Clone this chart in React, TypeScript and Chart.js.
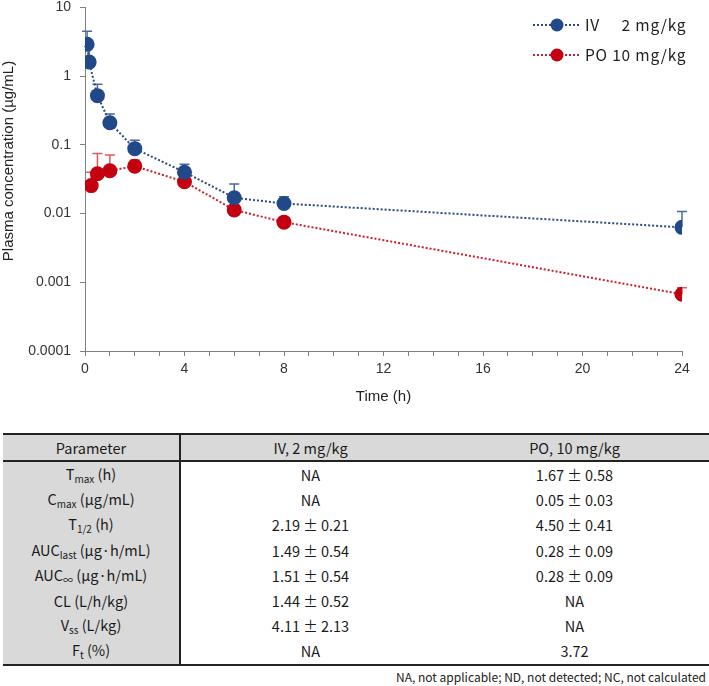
import React, { useEffect, useRef } from "react";
import { Chart, registerables } from "chart.js";
Chart.register(...registerables);

// ---- chart data ----
const ivTimes = [0.083, 0.167, 0.5, 1, 2, 4, 6, 8, 24];
const ivMeans = [2.9, 1.6, 0.52, 0.21, 0.088, 0.04, 0.017, 0.014, 0.0063];
const ivUpper = [4.5, 2.7, 0.76, 0.28, 0.117, 0.052, 0.027, 0.0176, 0.0107];
const poTimes = [0.25, 0.5, 1, 2, 4, 6, 8, 24];
const poMeans = [0.0255, 0.038, 0.042, 0.049, 0.029, 0.0113, 0.0075, 0.00067];
const poUpper: (number | null)[] = [0.04, 0.075, 0.071, 0.06, null, null, null, 0.00083];
const yTicks = [0.0001, 0.001, 0.01, 0.1, 1, 10];
const xTickLabels = ["0", "4", "8", "12", "16", "20", "24"];
const legendRoutes = ["IV", "PO"];
const legendDoses = ["2 mg/kg", "10 mg/kg"];
const xTitle = "Time (h)";
const yTitle = "Plasma concentration (µg/mL)";

// ---- table data ----
const headers = ["Parameter", "IV, 2 mg/kg", "PO, 10 mg/kg"];
const paramMain = ["T", "C", "T", "AUC", "AUC", "CL", "V", "F"];
const paramSub = ["max", "max", "1/2", "last", "∞", "", "ss", "t"];
const paramUnit = ["(h)", "(µg/mL)", "(h)", "(µg·h/mL)", "(µg·h/mL)", "(L/h/kg)", "(L/kg)", "(%)"];
const ivValues = ["NA", "NA", "2.19 ± 0.21", "1.49 ± 0.54", "1.51 ± 0.54", "1.44 ± 0.52", "4.11 ± 2.13", "NA"];
const poValues = ["1.67 ± 0.58", "0.05 ± 0.03", "4.50 ± 0.41", "0.28 ± 0.09", "0.28 ± 0.09", "NA", "NA", "3.72"];
const footnote = "NA, not applicable; ND, not detected; NC, not calculated";

const BLUE = "#21498A";
const BLUE_LINE = "#2B4A80";
const BLUE_ERR = "#4A6A9E";
const RED = "#C40010";
const RED_LINE = "#C8202A";
const RED_ERR = "#E05A5A";
const AXIS = "#808080";
const SANS = '"Liberation Sans", Arial, sans-serif';
const KR = '"Noto Sans CJK KR", "Noto Sans", sans-serif';

const OFFSET = 10; // canvas top offset (page y = canvas y - OFFSET)

export default function App() {
  const ref = useRef<HTMLCanvasElement | null>(null);

  useEffect(() => {
    if (!ref.current) return;
    const errPlugin = {
      id: "errBars",
      beforeDatasetsDraw(chart: any) {
        const ctx = chart.ctx;
        const xs = chart.scales.x;
        const ys = chart.scales.y;
        const draw = (times: number[], means: number[], ups: (number | null)[], color: string) => {
          ctx.save();
          ctx.strokeStyle = color;
          ctx.lineWidth = 1.5;
          times.forEach((t, i) => {
            const u = ups[i];
            if (u == null) return;
            const px = xs.getPixelForValue(t);
            const py0 = ys.getPixelForValue(means[i]);
            const py1 = ys.getPixelForValue(u);
            ctx.beginPath();
            ctx.moveTo(px, py0);
            ctx.lineTo(px, py1);
            ctx.moveTo(px - 5, py1);
            ctx.lineTo(px + 5, py1);
            ctx.stroke();
          });
          ctx.restore();
        };
        draw(poTimes, poMeans, poUpper, RED_ERR);
        draw(ivTimes, ivMeans, ivUpper, BLUE_ERR);
      },
      afterDraw(chart: any) {
        const ctx = chart.ctx;
        // y title
        ctx.save();
        ctx.translate(9, 161 + OFFSET);
        ctx.rotate(-Math.PI / 2);
        ctx.font = `15px ${SANS}`;
        ctx.fillStyle = "#222";
        ctx.textAlign = "center";
        ctx.textBaseline = "middle";
        ctx.fillText(yTitle, 0, 0);
        ctx.restore();
        // legend
        const items = [
          { line: BLUE_LINE, pt: BLUE },
          { line: RED_LINE, pt: RED },
        ];
        const setFont = () => {
          ctx.font = `15.5px ${KR}`;
          try {
            (ctx as any).letterSpacing = "0.8px";
          } catch (e) {}
        };
        ctx.save();
        setFont();
        const fullPO = legendRoutes[1] + " " + legendDoses[1];
        const endX = 585 + ctx.measureText(fullPO).width;
        ctx.restore();
        items.forEach((it, i) => {
          const y = 25 + i * 30 + OFFSET;
          ctx.save();
          ctx.strokeStyle = it.line;
          ctx.lineWidth = 2;
          ctx.setLineDash([2, 2]);
          ctx.beginPath();
          ctx.moveTo(533, y);
          ctx.lineTo(579, y);
          ctx.stroke();
          ctx.setLineDash([]);
          ctx.fillStyle = it.pt;
          ctx.beginPath();
          ctx.arc(557, y, 6.5, 0, Math.PI * 2);
          ctx.fill();
          setFont();
          ctx.fillStyle = "#222";
          ctx.textBaseline = "middle";
          ctx.textAlign = "left";
          ctx.fillText(legendRoutes[i], 585, y);
          ctx.textAlign = "right";
          ctx.fillText(legendDoses[i], endX, y);
          ctx.restore();
        });
      },
    };

    const chart = new Chart(ref.current, {
      type: "line",
      data: {
        datasets: [
          {
            label: "IV 2 mg/kg",
            data: ivTimes.map((t, i) => ({ x: t, y: ivMeans[i] })),
            borderColor: BLUE_LINE,
            borderWidth: 2,
            borderDash: [2, 2],
            pointRadius: 7.5,
            pointBackgroundColor: BLUE,
            pointBorderWidth: 0,
            fill: false,
            tension: 0,
          },
          {
            label: "PO 10 mg/kg",
            data: poTimes.map((t, i) => ({ x: t, y: poMeans[i] })),
            borderColor: RED_LINE,
            borderWidth: 2,
            borderDash: [2, 2],
            pointRadius: 7.5,
            pointBackgroundColor: RED,
            pointBorderWidth: 0,
            fill: false,
            tension: 0,
          },
        ],
      },
      options: {
        responsive: false,
        animation: false,
        layout: { padding: { top: 5 + OFFSET, right: 27, left: 0, bottom: 0 } },
        plugins: { legend: { display: false }, tooltip: { enabled: false } },
        scales: {
          x: {
            type: "linear",
            min: 0,
            max: 24,
            afterFit: (s: any) => {
              s.height = 55;
            },
            afterBuildTicks: (s: any) => {
              s.ticks = Array.from({ length: 25 }, (_, i) => ({ value: i }));
            },
            ticks: {
              autoSkip: false,
              maxRotation: 0,
              padding: 5,
              color: "#333",
              font: { family: SANS, size: 14 },
              callback: (v: any) => (v % 4 === 0 ? xTickLabels[v / 4] : ""),
            },
            grid: { drawOnChartArea: false, drawTicks: true, tickLength: 5, color: AXIS },
            border: { display: true, color: AXIS, width: 1 },
            title: { display: true, text: xTitle, color: "#222", font: { family: SANS, size: 15 }, padding: 0 },
          },
          y: {
            type: "logarithmic",
            min: 0.0001,
            max: 10,
            afterFit: (s: any) => {
              s.width = 85;
            },
            afterBuildTicks: (s: any) => {
              s.ticks = yTicks.map((v) => ({ value: v }));
            },
            ticks: {
              padding: 9,
              color: "#333",
              font: { family: SANS, size: 14 },
              callback: (v: any) => String(v),
            },
            grid: { drawOnChartArea: false, drawTicks: true, tickLength: 5, color: AXIS },
            border: { display: true, color: AXIS, width: 1 },
          },
        },
      },
      plugins: [errPlugin],
    } as any);
    return () => chart.destroy();
  }, []);

  const cellBase: React.CSSProperties = {
    padding: 0,
    textAlign: "center",
    verticalAlign: "middle",
  };
  const gray = "#D9D9D9";

  return (
    <div style={{ position: "absolute", left: 0, top: 0, width: 709, height: 686, overflow: "hidden", background: "#fff" }}>
      <canvas ref={ref} width={709} height={416} style={{ position: "absolute", left: 0, top: -OFFSET, width: 709, height: 416 }} />
      <table
        style={{
          position: "absolute",
          left: 3,
          top: 433,
          width: 706,
          borderCollapse: "separate",
          borderSpacing: 0,
          tableLayout: "fixed",
          fontFamily: KR,
          fontSize: 14.5,
          color: "#1a1a1a",
        }}
      >
        <colgroup>
          <col style={{ width: 178 }} />
          <col style={{ width: 259 }} />
          <col style={{ width: 269 }} />
        </colgroup>
        <thead>
          <tr>
            {headers.map((h, i) => (
              <th
                key={i}
                style={{
                  ...cellBase,
                  fontWeight: "normal",
                  height: 25,
                  background: gray,
                  borderTop: "2px solid #222",
                  borderBottom: "2px solid #222",
                  borderRight: i === 0 ? "2px solid #222" : undefined,
                }}
              >
                {h}
              </th>
            ))}
          </tr>
        </thead>
        <tbody>
          {paramMain.map((m, r) => {
            const last = r === paramMain.length - 1;
            const bb = last ? "2px solid #222" : undefined;
            return (
              <tr key={r}>
                <td style={{ ...cellBase, height: 25.2, background: gray, borderRight: "2px solid #222", borderBottom: bb }}>
                  {m}
                  {paramSub[r] ? <sub style={{ fontSize: 10, verticalAlign: "-3px" }}>{paramSub[r]}</sub> : null}{" "}
                  {paramUnit[r]}
                </td>
                <td style={{ ...cellBase, height: 25.2, borderBottom: bb }}>{ivValues[r]}</td>
                <td style={{ ...cellBase, height: 25.2, borderBottom: bb }}>{poValues[r]}</td>
              </tr>
            );
          })}
        </tbody>
      </table>
      <div
        style={{
          position: "absolute",
          right: 3,
          top: 669,
          fontFamily: KR,
          fontSize: 12,
          color: "#222",
          whiteSpace: "nowrap",
          lineHeight: "16px",
        }}
      >
        {footnote}
      </div>
    </div>
  );
}
